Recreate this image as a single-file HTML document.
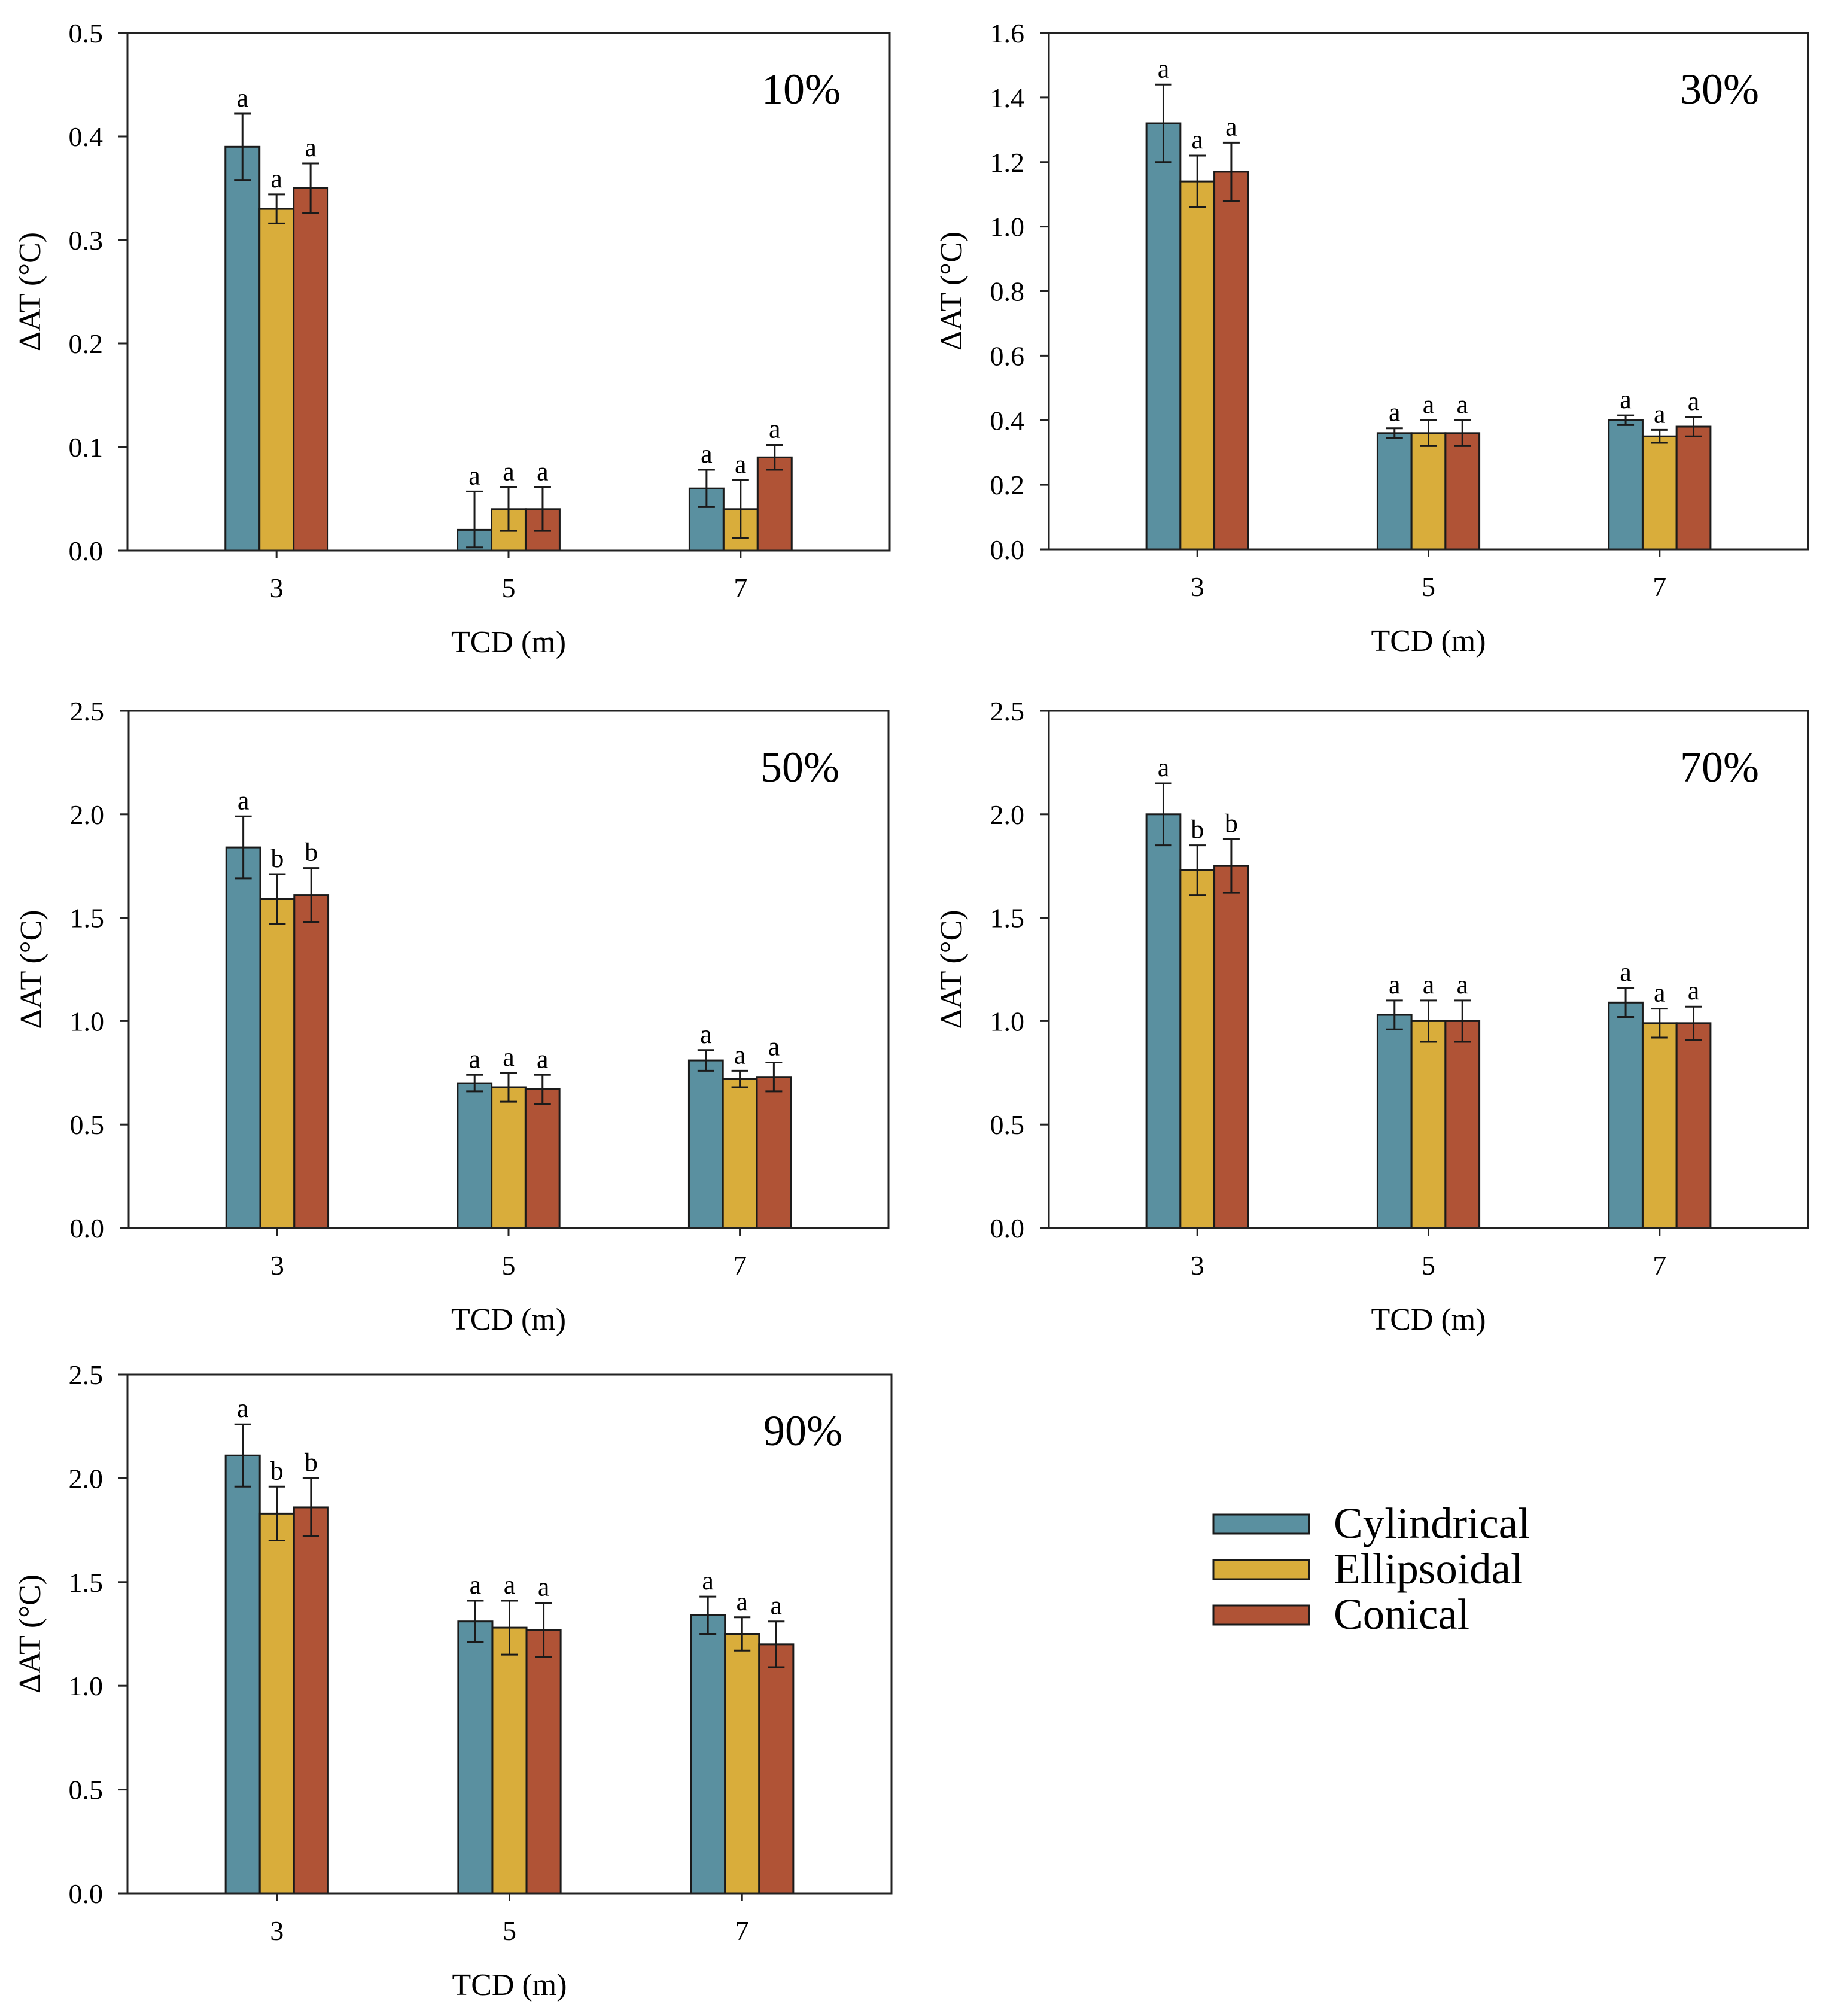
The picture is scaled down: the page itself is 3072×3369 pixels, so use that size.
<!DOCTYPE html>
<html><head><meta charset="utf-8"><style>
html,body{margin:0;padding:0;background:#fff;}
svg{display:block;font-family:"Liberation Serif",serif;}
</style></head><body>
<svg id="chart" width="3072" height="3369" viewBox="0 0 3072 3369" xmlns="http://www.w3.org/2000/svg"></svg>
<script>
const categories = ["3","5","7"];
const catValues = [3,5,7];
const seriesNames = ["Cylindrical","Ellipsoidal","Conical"];
const seriesColors = ["#5a90a0","#d9ad3b","#b05336"];
const panelLabels = ["10%","30%","50%","70%","90%"];
const yMaxes = [0.5,1.6,2.5,2.5,2.5];
const yStepList = [0.1,0.2,0.5,0.5,0.5];
const cylVals = [[0.39,0.02,0.06],[1.32,0.36,0.40],[1.84,0.70,0.81],[2.00,1.03,1.09],[2.11,1.31,1.34]];
const ellVals = [[0.33,0.04,0.04],[1.14,0.36,0.35],[1.59,0.68,0.72],[1.73,1.00,0.99],[1.83,1.28,1.25]];
const conVals = [[0.35,0.04,0.09],[1.17,0.36,0.38],[1.61,0.67,0.73],[1.75,1.00,0.99],[1.86,1.27,1.20]];
const cylErr = [[0.032,0.037,0.018],[0.12,0.015,0.015],[0.15,0.04,0.05],[0.15,0.07,0.07],[0.15,0.10,0.09]];
const ellErr = [[0.014,0.021,0.028],[0.08,0.04,0.02],[0.12,0.07,0.04],[0.12,0.10,0.07],[0.13,0.13,0.08]];
const conErr = [[0.024,0.021,0.012],[0.09,0.04,0.03],[0.13,0.07,0.07],[0.13,0.10,0.08],[0.14,0.13,0.11]];
const cylLetters = [["a","a","a"],["a","a","a"],["a","a","a"],["a","a","a"],["a","a","a"]];
const ellLetters = [["a","a","a"],["a","a","a"],["b","a","a"],["b","a","a"],["b","a","a"]];
const conLetters = [["a","a","a"],["a","a","a"],["b","a","a"],["b","a","a"],["b","a","a"]];

const NS="http://www.w3.org/2000/svg";
const svg=document.getElementById('chart');
function mk(tag,attrs,parent){const e=document.createElementNS(NS,tag);for(const k in attrs)e.setAttribute(k,attrs[k]);(parent||svg).appendChild(e);return e;}

const boxes=[
 {x0:213,x1:1487,y0:55,y1:920},
 {x0:1753,x1:3022,y0:55,y1:918},
 {x0:215,x1:1485,y0:1188,y1:2052},
 {x0:1753,x1:3022,y0:1188,y1:2052},
 {x0:213,x1:1490,y0:2297,y1:3164}
];
const allVals=[cylVals,ellVals,conVals], allErr=[cylErr,ellErr,conErr], allLet=[cylLetters,ellLetters,conLetters];

boxes.forEach((b,p)=>{
  const g=mk('g',{});
  
  
  const W=b.x1-b.x0;
  const xs=v=>b.x0+W*(v-1.715)/6.57;
  const ys=v=>b.y1-(b.y1-b.y0)*v/yMaxes[p];
  const bw=W*0.0447;
  for(let s=0;s<3;s++){
    for(let c=0;c<3;c++){
      const v=allVals[s][p][c], e=allErr[s][p][c];
      const cx=xs(catValues[c])+(s-1)*bw;
      const r=mk('rect',{x:cx-bw/2,y:ys(v),width:bw,height:ys(0)-ys(v),fill:seriesColors[s],stroke:'#1a1a1a','stroke-width':3},g);
      
      
      const lo=Math.max(0.003*yMaxes[p]/0.5,v-e);
      const eb=mk('path',{d:`M${cx},${ys(v+e)}V${ys(lo)}M${cx-14},${ys(v+e)}H${cx+14}M${cx-14},${ys(lo)}H${cx+14}`,stroke:'#1a1a1a','stroke-width':3,fill:'none'},g);
      
      
      const t=mk('text',{x:cx,y:ys(v+e)-12,'font-size':44,'text-anchor':'middle'},g);
      t.textContent=allLet[s][p][c];
      
      
    }
  }
  const fr=mk('rect',{x:b.x0,y:b.y0,width:W,height:b.y1-b.y0,fill:'none',stroke:'#222','stroke-width':3},g);
  
  
  const n=Math.round(yMaxes[p]/yStepList[p]);
  for(let i=0;i<=n;i++){
    const v=i*yStepList[p];
    mk('line',{x1:b.x0-15,x2:b.x0,y1:ys(v),y2:ys(v),stroke:'#222','stroke-width':3},g);
    const t=mk('text',{x:b.x0-41,y:ys(v)+16,'font-size':46,'text-anchor':'end'},g);
    t.textContent=v.toFixed(1);
    
    
  }
  categories.forEach((c,i)=>{
    const x=xs(catValues[i]);
    mk('line',{x1:x,x2:x,y1:b.y1,y2:b.y1+13,stroke:'#222','stroke-width':3},g);
    const t=mk('text',{x:x,y:b.y1+78,'font-size':46,'text-anchor':'middle'},g);
    t.textContent=c;
    
    
  });
  const xt=mk('text',{x:(b.x0+b.x1)/2,y:b.y1+170,'font-size':52,'text-anchor':'middle'},g);
  xt.textContent='TCD (m)';
  
  
  const ycx=b.x0-146, ycy=(b.y0+b.y1)/2;
  const yt=mk('text',{x:ycx,y:ycy,'font-size':52,'text-anchor':'middle',transform:`rotate(-90 ${ycx} ${ycy})`},g);
  yt.textContent='ΔAT (°C)';
  
  
  const pl=mk('text',{x:b.x1-82,y:b.y0+118,'font-size':72,'text-anchor':'end'},g);
  pl.textContent=panelLabels[p];
  
  
});

const lg=mk('g',{});


seriesNames.forEach((nm,i)=>{
  const cy=2547+i*76;
  const r=mk('rect',{x:2028,y:cy-16,width:160,height:32,fill:seriesColors[i],stroke:'#1a1a1a','stroke-width':3},lg);
  
  
  const t=mk('text',{x:2229,y:cy+23,'font-size':73},lg);
  t.textContent=nm;
  
  
});
</script>
</body></html>
